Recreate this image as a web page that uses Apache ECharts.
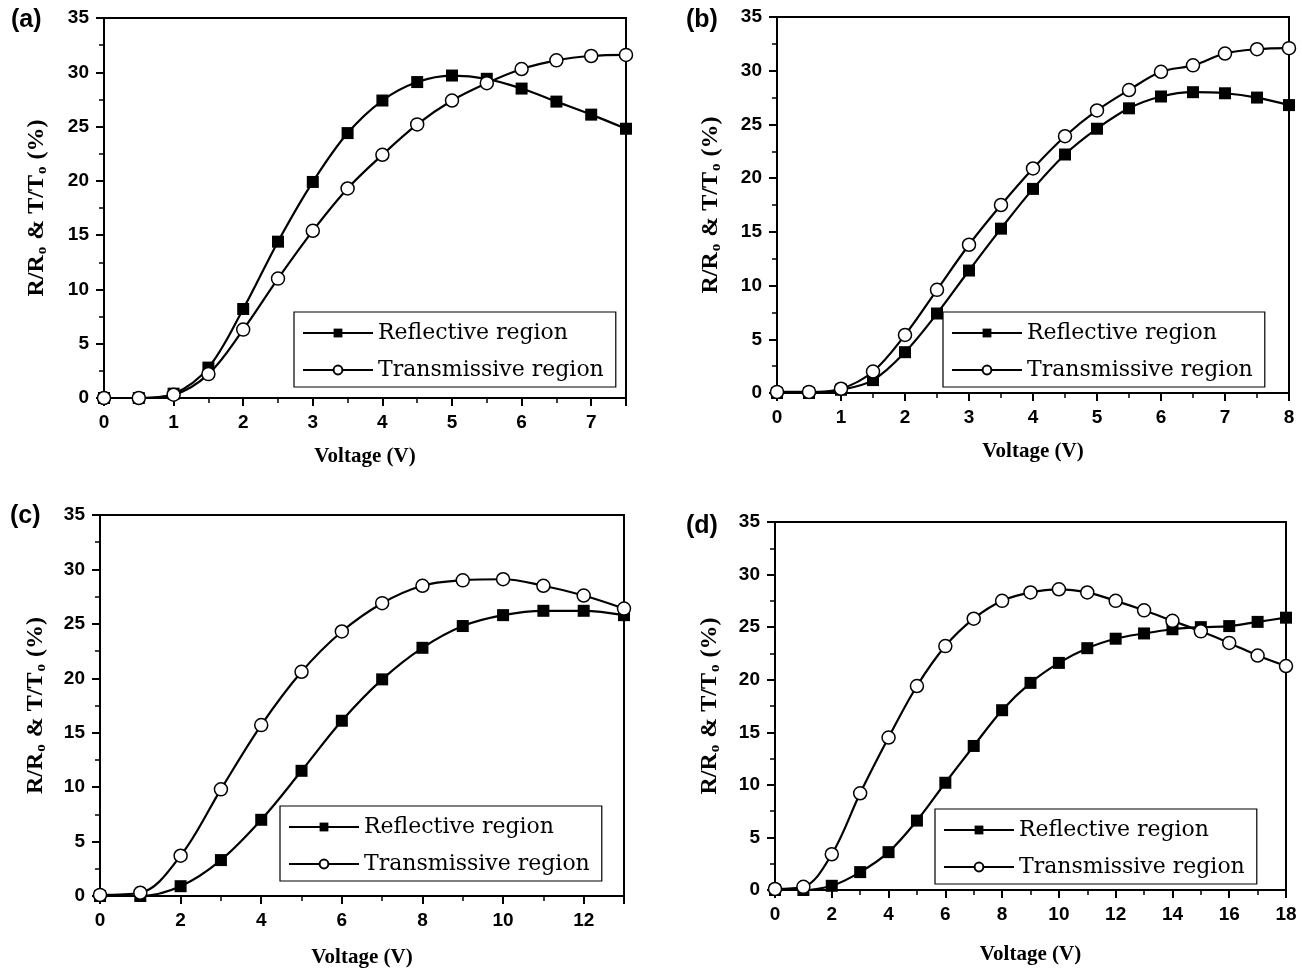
<!DOCTYPE html>
<html><head><meta charset="utf-8">
<script src="https://cdn.jsdelivr.net/npm/echarts@6/dist/echarts.min.js"></script>
<style>html,body{margin:0;padding:0;background:#fff}#c{width:1302px;height:973px}</style>
</head><body><div id="c"></div>
<script>
// ---- data ----
const panelLabels = ['(a)', '(b)', '(c)', '(d)'];
const seriesNames = ['Reflective region', 'Transmissive region'];
const xAxisTitle = 'Voltage (V)';

const voltageA = [0,0.5,1,1.5,2,2.5,3,3.5,4,4.5,5,5.5,6,6.5,7,7.5];
const reflA    = [0,0,0.4,2.8,8.2,14.4,19.9,24.4,27.4,29.1,29.7,29.4,28.5,27.3,26.1,24.8];
const transA   = [0,0,0.3,2.2,6.3,11.0,15.4,19.3,22.4,25.2,27.4,29.0,30.3,31.1,31.5,31.6];

const voltageB = [0,0.5,1,1.5,2,2.5,3,3.5,4,4.5,5,5.5,6,6.5,7,7.5,8];
const reflB    = [0,0,0.3,1.2,3.8,7.4,11.4,15.3,19.0,22.2,24.6,26.5,27.6,28.0,27.9,27.5,26.8];
const transB   = [0.1,0.1,0.4,2.0,5.4,9.6,13.8,17.5,20.9,23.9,26.3,28.2,29.9,30.5,31.6,32.0,32.1];

const voltageC = [0,1,2,3,4,5,6,7,8,9,10,11,12,13];
const reflC    = [0,0,0.9,3.3,7.0,11.5,16.1,19.9,22.8,24.8,25.8,26.2,26.2,25.8];
const transC   = [0.1,0.3,3.7,9.8,15.7,20.6,24.3,26.9,28.5,29.0,29.1,28.5,27.6,26.4];

const voltageD = [0,1,2,3,4,5,6,7,8,9,10,11,12,13,14,15,16,17,18];
const reflD    = [0,0,0.4,1.7,3.6,6.6,10.2,13.7,17.1,19.7,21.6,23.0,23.9,24.4,24.8,25.0,25.1,25.5,25.9];
const transD   = [0.1,0.3,3.4,9.2,14.5,19.4,23.2,25.8,27.5,28.3,28.6,28.3,27.5,26.6,25.6,24.6,23.5,22.3,21.3];

const xMax      = [7.5, 8, 13, 18];
const xInterval = [1, 1, 2, 2];
const yTicks    = [0, 35, 5];

// ---- layout ----
const grids = [
  {left:104, top:18,  width:522, height:380},
  {left:777, top:17,  width:512, height:376},
  {left:100, top:515, width:524, height:381},
  {left:775, top:522, width:511, height:368}
];
const legendPos = [
  {left:294, top:312},
  {left:943, top:312},
  {left:280, top:806},
  {left:935, top:809}
];
const titlePos = [
  {left:6, top:3}, {left:681, top:3}, {left:5, top:499}, {left:681, top:509}
];
const xNameGap = [48, 48, 51, 54];
const yNameGap = [54, 53, 51, 52];

const xs = [voltageA, voltageB, voltageC, voltageD];
const refl = [reflA, reflB, reflC, reflD];
const trans = [transA, transB, transC, transD];
const zip = (a, b) => a.map((v, i) => [v, b[i]]);

const tickFont = {fontFamily:"'Liberation Sans',Arial", fontWeight:'bold', fontSize:19, color:'#000'};
const serif = "'Liberation Serif','Times New Roman',serif";

const option = {
  animation:false,
  backgroundColor:'#fff',
  title: panelLabels.map((t,i)=>({text:t, left:titlePos[i].left, top:titlePos[i].top,
    textStyle:{fontFamily:"'Liberation Sans',Arial", fontWeight:'bold', fontSize:25, color:'#000'}})),
  grid: grids.map(g=>Object.assign({show:true, borderColor:'#000', borderWidth:2, backgroundColor:'transparent', containLabel:false}, g)),
  legend: legendPos.map(p=>({
    left:p.left, top:p.top, orient:'vertical', data:seriesNames,
    borderColor:'#000', borderWidth:1.2, padding:[10,12,6,8], itemGap:15,
    itemWidth:70, itemHeight:11,
    textStyle:{fontFamily:"'DejaVu Serif',serif", fontSize:22, color:'#000'},
    selectedMode:false
  })),
  xAxis: grids.map((g,i)=>({
    type:'value', gridIndex:i, min:0, max:xMax[i], interval:xInterval[i],
    splitLine:{show:false},
    axisLine:{onZero:false, lineStyle:{color:'#000', width:2}},
    axisTick:{length:8, lineStyle:{color:'#000', width:2}},
    minorTick:{show:true, splitNumber:2, length:5, lineStyle:{color:'#000', width:1.5}},
    axisLabel:Object.assign({margin:15, showMaxLabel: (xMax[i] % xInterval[i] === 0)}, tickFont),
    name:xAxisTitle, nameLocation:'middle', nameGap:xNameGap[i],
    nameTextStyle:{fontFamily:serif, fontWeight:'bold', fontSize:21, color:'#000'}
  })),
  yAxis: grids.map((g,i)=>({
    type:'value', gridIndex:i, min:yTicks[0], max:yTicks[1], interval:yTicks[2],
    splitLine:{show:false},
    axisLine:{onZero:false, lineStyle:{color:'#000', width:2}},
    axisTick:{length:8, lineStyle:{color:'#000', width:2}},
    minorTick:{show:true, splitNumber:2, length:5, lineStyle:{color:'#000', width:1.5}},
    axisLabel:Object.assign({margin:15}, tickFont),
    name:'{a|R/R}{s|o}{a| & T/T}{s|o}{a| (%)}', nameLocation:'middle', nameGap:yNameGap[i],
    nameTextStyle:{
      rich:{
        a:{fontFamily:serif, fontWeight:'bold', fontSize:24, color:'#000'},
        s:{fontFamily:serif, fontWeight:'bold', fontSize:15, color:'#000', verticalAlign:'bottom', padding:[12,1,0,1]}
      }
    }
  })),
  series: []
};

for (let i=0;i<4;i++){
  option.series.push({
    name:seriesNames[0], type:'line', xAxisIndex:i, yAxisIndex:i, smooth:0.35,
    data:zip(xs[i], refl[i]), symbol:'rect', symbolSize:12,
    itemStyle:{color:'#000'}, lineStyle:{color:'#000', width:2.2}, z:2
  });
  option.series.push({
    name:seriesNames[1], type:'line', xAxisIndex:i, yAxisIndex:i, smooth:0.35,
    data:zip(xs[i], trans[i]), symbol:'circle', symbolSize:13,
    itemStyle:{color:'#fff', borderColor:'#000', borderWidth:1.5}, lineStyle:{color:'#000', width:2.2}, z:3
  });
}

const chart = echarts.init(document.getElementById('c'), null, {renderer:'canvas'});
chart.setOption(option);
</script>
</body></html>
